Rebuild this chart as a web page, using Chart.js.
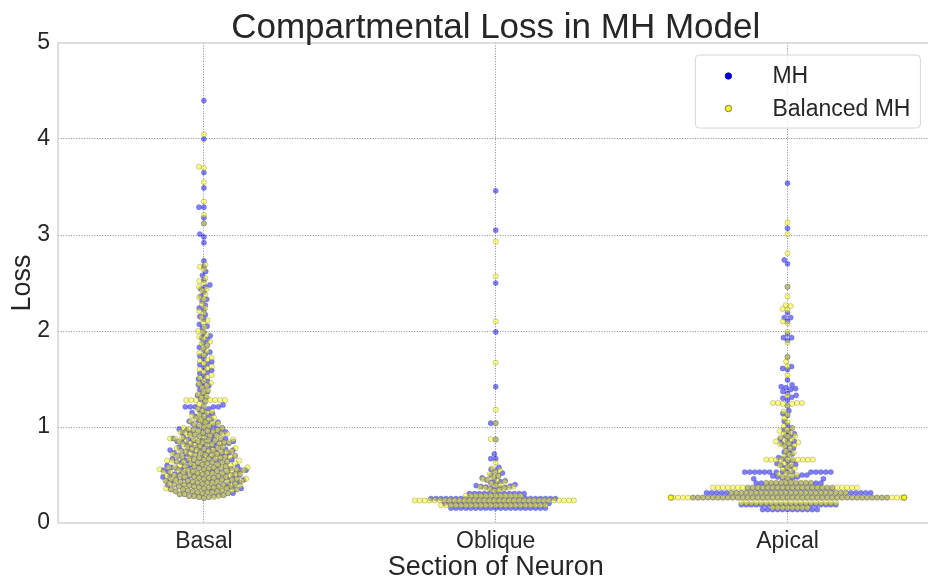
<!DOCTYPE html>
<html>
<head>
<meta charset="utf-8">
<script src="https://cdn.jsdelivr.net/npm/chart.js@4.4.0/dist/chart.umd.min.js"></script>
<style>
  html, body { margin: 0; padding: 0; overflow: hidden; background: #fff; }
  #wrap { width: 938px; height: 581px; }
</style>
</head>
<body>
<div id="wrap"><canvas id="chart" width="938" height="581"></canvas></div>
<script>
const sections = ['Basal', 'Oblique', 'Apical']
const seriesNames = ['MH', 'Balanced MH']
const yTicks = [0, 1, 2, 3, 4, 5]

// loss values, one list per section and model
const mhBasal = [
  4.40, 4.00, 3.65, 3.49, 3.29, 3.29, 3.18, 3.12, 3.01, 2.98, 2.92, 2.73, 2.67, 2.62, 2.58, 2.53,
  2.48, 2.46, 2.44, 2.40, 2.36, 2.33, 2.31, 2.27, 2.24, 2.22, 2.17, 2.15, 2.12, 2.07, 2.05, 2.03,
  1.98, 1.95, 1.93, 1.91, 1.88, 1.85, 1.83, 1.81, 1.78, 1.76, 1.74, 1.71, 1.68, 1.66, 1.65, 1.62, 1.59, 1.57, 1.56,
  1.53, 1.50, 1.48, 1.47, 1.44, 1.43, 1.42,
  1.39, 1.37, 1.35, 1.33, 1.31, 1.29, 1.26, 1.23, 1.21, 1.21, 1.21, 1.21, 1.21, 1.21,
  1.19, 1.18, 1.16, 1.15, 1.14, 1.13, 1.12, 1.11, 1.09, 1.08, 1.07, 1.06, 1.05, 1.05, 1.04, 1.03, 1.02, 1.01, 1.00,
  0.99, 0.99, 0.98, 0.98, 0.97, 0.97, 0.96, 0.96, 0.95, 0.95, 0.94, 0.94, 0.93, 0.93, 0.92, 0.92, 0.91, 0.90,
  0.89, 0.89, 0.88, 0.88, 0.87, 0.87, 0.87, 0.86, 0.86, 0.85, 0.85, 0.85, 0.84, 0.84, 0.83, 0.83, 0.83, 0.82, 0.82, 0.81, 0.81, 0.80,
  0.79, 0.79, 0.79, 0.78, 0.77, 0.77, 0.77, 0.76, 0.76, 0.76, 0.75, 0.75, 0.75, 0.74, 0.73, 0.73, 0.73, 0.72, 0.72, 0.72, 0.71, 0.71, 0.70, 0.70,
  0.69, 0.69, 0.69, 0.68, 0.68, 0.67, 0.67, 0.67, 0.66, 0.66, 0.65, 0.65, 0.65, 0.64, 0.64, 0.63, 0.63, 0.63, 0.62, 0.62, 0.61, 0.61, 0.60, 0.60,
  0.59, 0.59, 0.59, 0.58, 0.58, 0.58, 0.57, 0.57, 0.57, 0.57, 0.56, 0.56, 0.56, 0.55, 0.55, 0.55, 0.55, 0.54, 0.54, 0.54, 0.53, 0.53, 0.53, 0.52, 0.52, 0.52, 0.51, 0.51, 0.51, 0.50, 0.50, 0.50,
  0.49, 0.49, 0.49, 0.48, 0.48, 0.48, 0.47, 0.47, 0.47, 0.47, 0.46, 0.46, 0.46, 0.45, 0.45, 0.45, 0.44, 0.44, 0.44, 0.44, 0.43, 0.43, 0.43, 0.42, 0.42, 0.42, 0.41, 0.41, 0.41, 0.40, 0.40, 0.40,
  0.39, 0.39, 0.39, 0.38, 0.38, 0.38, 0.37, 0.37, 0.37, 0.36, 0.36, 0.36, 0.35, 0.35, 0.35, 0.34, 0.34, 0.34, 0.33, 0.33, 0.33, 0.32, 0.32, 0.31, 0.31, 0.31, 0.30, 0.30,
  0.29, 0.29, 0.28, 0.28, 0.28, 0.27, 0.27, 0.26
]
const balancedBasal = [
  4.05, 3.71, 3.70, 3.55, 3.35, 3.21, 3.12, 2.69, 2.67, 2.64, 2.55, 2.52,
  2.50, 2.46, 2.44, 2.42, 2.38, 2.35, 2.33, 2.28, 2.24, 2.21, 2.19, 2.14, 2.11, 2.09, 2.04, 2.00,
  1.99, 1.96, 1.94, 1.92, 1.89, 1.87, 1.85, 1.82, 1.79, 1.77, 1.75, 1.72, 1.70, 1.69, 1.66, 1.63, 1.61, 1.60, 1.57,
  1.54, 1.52, 1.51, 1.48, 1.46, 1.45, 1.43, 1.41,
  1.38, 1.36, 1.34, 1.32, 1.30, 1.28, 1.28, 1.28, 1.28, 1.28, 1.28, 1.28, 1.27, 1.24, 1.22,
  1.19, 1.17, 1.16, 1.15, 1.13, 1.12, 1.11, 1.10, 1.09, 1.08, 1.07, 1.06, 1.05, 1.04, 1.04, 1.03, 1.02, 1.01, 1.00,
  0.99, 0.99, 0.98, 0.97, 0.97, 0.96, 0.96, 0.95, 0.95, 0.94, 0.94, 0.93, 0.93, 0.92, 0.92, 0.91, 0.91, 0.90,
  0.89, 0.89, 0.88, 0.88, 0.88, 0.87, 0.87, 0.86, 0.86, 0.86, 0.85, 0.85, 0.84, 0.84, 0.84, 0.83, 0.83, 0.82, 0.82, 0.81, 0.81, 0.80,
  0.79, 0.79, 0.78, 0.78, 0.78, 0.77, 0.77, 0.76, 0.76, 0.75, 0.75, 0.75, 0.74, 0.74, 0.74, 0.73, 0.72, 0.72, 0.72, 0.71, 0.71, 0.71, 0.70, 0.70,
  0.69, 0.69, 0.69, 0.68, 0.68, 0.67, 0.67, 0.67, 0.66, 0.66, 0.65, 0.65, 0.65, 0.64, 0.64, 0.64, 0.63, 0.63, 0.63, 0.62, 0.62, 0.62, 0.61, 0.61, 0.60, 0.60,
  0.59, 0.59, 0.59, 0.58, 0.58, 0.58, 0.58, 0.57, 0.57, 0.57, 0.56, 0.56, 0.56, 0.55, 0.55, 0.55, 0.55, 0.54, 0.54, 0.54, 0.53, 0.53, 0.53, 0.52, 0.52, 0.52, 0.52, 0.51, 0.51, 0.51, 0.50, 0.50, 0.50,
  0.49, 0.49, 0.49, 0.48, 0.48, 0.48, 0.47, 0.47, 0.47, 0.46, 0.46, 0.46, 0.46, 0.45, 0.45, 0.45, 0.44, 0.44, 0.44, 0.43, 0.43, 0.43, 0.43, 0.42, 0.42, 0.42, 0.41, 0.41, 0.41, 0.40, 0.40, 0.40,
  0.39, 0.39, 0.39, 0.38, 0.38, 0.38, 0.37, 0.37, 0.37, 0.36, 0.36, 0.36, 0.35, 0.35, 0.35, 0.34, 0.34, 0.34, 0.33, 0.33, 0.33, 0.32, 0.32, 0.32, 0.31, 0.31, 0.30, 0.30,
  0.29, 0.28, 0.28, 0.28, 0.27, 0.27, 0.27, 0.26
]
const mhOblique = [
  3.46, 3.05, 2.50, 1.99, 1.42, 1.04, 1.04, 0.87, 0.72, 0.67, 0.67,
  0.58, 0.56, 0.54, 0.52, 0.50, 0.49, 0.47, 0.46, 0.45, 0.44, 0.43, 0.42, 0.41, 0.40, 0.39,
  0.385, 0.38, 0.375, 0.37, 0.365, 0.36, 0.355,
  0.305, 0.305, 0.305, 0.305, 0.305, 0.305, 0.305, 0.305, 0.305, 0.305, 0.305, 0.305,
  0.255, 0.255, 0.255, 0.255, 0.255, 0.255, 0.255, 0.255, 0.255, 0.255, 0.255, 0.255, 0.255,
  0.255, 0.255, 0.255, 0.255, 0.255, 0.255, 0.255, 0.255, 0.255, 0.255, 0.255, 0.255, 0.255,
  0.205, 0.205, 0.205, 0.205, 0.205, 0.205, 0.205, 0.205, 0.205, 0.205, 0.205,
  0.205, 0.205, 0.205, 0.205, 0.205, 0.205, 0.205, 0.205, 0.205, 0.205, 0.205,
  0.155, 0.155, 0.155, 0.155, 0.155, 0.155, 0.155, 0.155, 0.155, 0.155,
  0.155, 0.155, 0.155, 0.155, 0.155, 0.155, 0.155, 0.155, 0.155, 0.155
]
const balancedOblique = [
  2.93, 2.57, 2.10, 1.67, 1.18, 1.04, 0.875, 0.87, 0.63,
  0.57, 0.55, 0.53, 0.51, 0.49, 0.475, 0.46, 0.45, 0.44, 0.43, 0.415, 0.40, 0.39,
  0.38, 0.375, 0.37, 0.365, 0.36, 0.355, 0.345, 0.335,
  0.285, 0.285, 0.285, 0.285, 0.285, 0.285, 0.285, 0.285, 0.285, 0.285, 0.285, 0.285,
  0.235, 0.235, 0.235, 0.235, 0.235, 0.235, 0.235, 0.235, 0.235, 0.235, 0.235,
  0.235, 0.235, 0.235, 0.235, 0.235, 0.235, 0.235, 0.235, 0.235, 0.235,
  0.235, 0.235, 0.235, 0.235, 0.235, 0.235, 0.235, 0.235, 0.235, 0.235, 0.235, 0.235,
  0.185, 0.185, 0.185, 0.185, 0.185, 0.185, 0.185, 0.185, 0.185, 0.185, 0.185,
  0.185, 0.185, 0.185, 0.185, 0.185, 0.185, 0.185, 0.185, 0.185, 0.185, 0.185
]
const mhApical = [
  3.54, 3.07, 2.74, 2.70, 2.46, 2.19, 2.14, 2.14, 2.10, 1.97, 1.93, 1.93, 1.90, 1.73, 1.63, 1.61, 1.60, 1.49,
  1.44, 1.42, 1.41, 1.40, 1.39, 1.37, 1.35, 1.33, 1.31, 1.30, 1.28, 1.22, 1.17, 1.14, 1.12, 1.06, 1.02,
  0.99, 0.97, 0.95, 0.93, 0.91, 0.90, 0.88, 0.86, 0.85, 0.83, 0.82, 0.80,
  0.78, 0.76, 0.74, 0.72, 0.70, 0.68, 0.67, 0.65, 0.64, 0.62, 0.61, 0.60, 0.59, 0.58,
  0.53, 0.53, 0.53, 0.53, 0.53, 0.53, 0.53, 0.53, 0.53, 0.53, 0.53, 0.53, 0.53, 0.53, 0.53,
  0.50, 0.50, 0.49, 0.48, 0.48, 0.47, 0.47, 0.465, 0.46, 0.46,
  0.415, 0.415, 0.415, 0.415, 0.415, 0.415, 0.415, 0.415, 0.415, 0.415, 0.415, 0.415, 0.415, 0.415,
  0.365, 0.365, 0.365, 0.365, 0.365, 0.365, 0.365, 0.365, 0.365, 0.365, 0.365, 0.365, 0.365, 0.365, 0.365, 0.365, 0.365, 0.365,
  0.315, 0.315, 0.315, 0.315, 0.315, 0.315, 0.315, 0.315, 0.315, 0.315, 0.315, 0.315, 0.315, 0.315, 0.315, 0.315, 0.315,
  0.315, 0.315, 0.315, 0.315, 0.315, 0.315, 0.315, 0.315, 0.315, 0.315, 0.315, 0.315, 0.315, 0.315, 0.315, 0.315, 0.315,
  0.265, 0.265, 0.265, 0.265, 0.265, 0.265, 0.265, 0.265, 0.265, 0.265, 0.265, 0.265, 0.265, 0.265, 0.265, 0.265, 0.265, 0.265, 0.265, 0.265,
  0.265, 0.265, 0.265, 0.265, 0.265, 0.265, 0.265, 0.265, 0.265, 0.265, 0.265, 0.265, 0.265, 0.265, 0.265, 0.265, 0.265, 0.265, 0.265, 0.265,
  0.19, 0.19, 0.19, 0.19, 0.19, 0.19, 0.19, 0.19, 0.19, 0.19, 0.19, 0.19, 0.19, 0.19, 0.19, 0.19, 0.19, 0.19, 0.19, 0.19,
  0.14, 0.14, 0.14, 0.14, 0.14, 0.14, 0.14, 0.14, 0.14, 0.14, 0.14, 0.14
]
const balancedApical = [
  3.13, 3.01, 2.81, 2.46, 2.36, 2.27, 2.26, 2.23, 2.22, 2.10, 2.08, 1.99, 1.88, 1.73, 1.68, 1.63, 1.54, 1.33,
  1.25, 1.25, 1.25, 1.24, 1.25, 1.24, 1.22, 1.16, 1.13, 1.09, 1.05, 1.01,
  0.99, 0.97, 0.96, 0.94, 0.93, 0.91, 0.90, 0.89, 0.87, 0.86, 0.85, 0.84, 0.83, 0.82, 0.81, 0.80,
  0.78, 0.75, 0.73, 0.71, 0.70,
  0.66, 0.66, 0.66, 0.66, 0.66, 0.66, 0.66, 0.66, 0.66, 0.66,
  0.62, 0.61, 0.60, 0.58, 0.57, 0.56, 0.54, 0.52, 0.51, 0.50, 0.49, 0.48, 0.47,
  0.42, 0.42, 0.42, 0.42, 0.42, 0.42, 0.42, 0.42, 0.42, 0.42,
  0.37, 0.37, 0.37, 0.37, 0.37, 0.37, 0.37, 0.37, 0.37, 0.37, 0.37, 0.37, 0.37, 0.37, 0.37,
  0.37, 0.37, 0.37, 0.37, 0.37, 0.37, 0.37, 0.37, 0.37, 0.37, 0.37, 0.37, 0.37, 0.37, 0.37,
  0.315, 0.315, 0.315, 0.315, 0.315, 0.315, 0.315, 0.315, 0.315, 0.315, 0.315, 0.315,
  0.315, 0.315, 0.315, 0.315, 0.315, 0.315, 0.315, 0.315, 0.315, 0.315, 0.315, 0.315,
  0.265, 0.265, 0.265, 0.265, 0.265, 0.265, 0.265, 0.265, 0.265, 0.265, 0.265, 0.265, 0.265, 0.265,
  0.265, 0.265, 0.265, 0.265, 0.265, 0.265, 0.265, 0.265, 0.265, 0.265, 0.265, 0.265, 0.265, 0.265,
  0.265, 0.265, 0.265, 0.265, 0.265, 0.265, 0.265, 0.265, 0.265, 0.265, 0.265, 0.265, 0.265, 0.265,
  0.265, 0.265, 0.265, 0.265, 0.265, 0.265, 0.265, 0.265, 0.265, 0.265, 0.265, 0.265, 0.265, 0.265,
  0.21, 0.21, 0.21, 0.21, 0.21, 0.21, 0.21, 0.21, 0.21, 0.21, 0.21, 0.21, 0.21, 0.21, 0.21, 0.21, 0.21, 0.21, 0.21, 0.21,
  0.16, 0.16, 0.16, 0.16, 0.16, 0.16, 0.16, 0.16
]

const mhValues = [mhBasal, mhOblique, mhApical]
const balancedValues = [balancedBasal, balancedOblique, balancedApical]

const textColor = '#262626'
const gridColor = 'rgba(90, 90, 90, 0.8)'
const pointRadius = 2.6
const swarmGap = 5.0   // px between centres of touching points
const swarmWidth = 0.8 // share of a category the swarm may fill

Chart.defaults.font.family = "'Liberation Sans', Arial, sans-serif"
Chart.defaults.color = textColor

// seaborn style beeswarm: place points in value order, nearest free spot to the midline
function swarmOffsets(values, center, yScale, limit) {
  const d = swarmGap
  const pts = values.map((v, i) => ({ i, py: yScale.getPixelForValue(v), px: center }))
  const order = pts.slice().sort((a, b) => b.py - a.py || a.i - b.i)
  const placed = []
  for (const p of order) {
    const near = []
    for (let k = placed.length - 1; k >= 0; k--) {
      if (Math.abs(placed[k].py - p.py) < d) near.push(placed[k])
    }
    const cands = [center]
    for (const q of near) {
      const dx = Math.sqrt(d * d - (q.py - p.py) ** 2)
      cands.push(q.px - dx, q.px + dx)
    }
    cands.sort((a, b) => Math.abs(a - center) - Math.abs(b - center))
    for (const c of cands) {
      if (near.every(q => (q.px - c) ** 2 + (q.py - p.py) ** 2 >= d * d - 0.01)) {
        p.px = c
        break
      }
    }
    placed.push(p)
  }
  return pts.map(p => Math.min(center + limit, Math.max(center - limit, p.px)) - center)
}

const framePlugin = {
  id: 'frame',
  beforeDatasetsDraw(c) {
    const { ctx, chartArea: a } = c
    ctx.save()
    ctx.strokeStyle = '#cccccc'
    ctx.lineWidth = 1.25
    ctx.strokeRect(a.left, a.top, a.right - a.left, a.bottom - a.top)
    ctx.restore()
  }
}

const titlePlugin = {
  id: 'topTitle',
  afterDraw(c) {
    const { ctx, chartArea: a } = c
    ctx.save()
    ctx.fillStyle = textColor
    ctx.font = "35px 'Liberation Sans', Arial, sans-serif"
    ctx.textAlign = 'center'
    ctx.textBaseline = 'alphabetic'
    ctx.fillText('Compartmental Loss in MH Model', (a.left + a.right) / 2, 38)
    ctx.restore()
  }
}

const legendPlugin = {
  id: 'swarmLegend',
  afterDraw(c) {
    const { ctx, chartArea: a } = c
    const w = 225, h = 73
    const x0 = a.right - 13 - w, y0 = a.top + 12
    ctx.save()
    ctx.beginPath()
    ctx.roundRect(x0, y0, w, h, 4)
    ctx.fillStyle = 'rgba(255,255,255,0.8)'
    ctx.fill()
    ctx.strokeStyle = '#d6d6d6'
    ctx.lineWidth = 1
    ctx.stroke()
    const marks = [
      { fill: 'rgb(0,0,230)', edge: 'rgb(0,0,200)' },
      { fill: 'rgb(255,255,0)', edge: '#555555' }
    ]
    ctx.font = "23px 'Liberation Sans', Arial, sans-serif"
    ctx.textBaseline = 'middle'
    seriesNames.forEach((name, k) => {
      const yy = y0 + 21 + k * 32.5
      ctx.beginPath()
      ctx.arc(x0 + 33, yy, 3.2, 0, Math.PI * 2)
      ctx.fillStyle = marks[k].fill
      ctx.fill()
      ctx.lineWidth = 0.8
      ctx.strokeStyle = marks[k].edge
      ctx.stroke()
      ctx.fillStyle = textColor
      ctx.fillText(name, x0 + 77, yy + 1)
    })
    ctx.restore()
  }
}

const chart = new Chart(document.getElementById('chart'), {
  type: 'scatter',
  data: {
    datasets: [
      {
        label: seriesNames[1],
        data: [],
        order: 0,
        pointRadius: pointRadius,
        pointBackgroundColor: 'rgba(255, 255, 0, 0.5)',
        pointBorderColor: 'rgba(70, 70, 70, 0.45)',
        pointBorderWidth: 0.6
      },
      {
        label: seriesNames[0],
        data: [],
        order: 1,
        pointRadius: pointRadius,
        pointBackgroundColor: 'rgba(0, 0, 255, 0.5)',
        pointBorderColor: 'rgba(50, 50, 120, 0.35)',
        pointBorderWidth: 0.6
      }
    ]
  },
  options: {
    responsive: false,
    animation: false,
    events: [],
    layout: { padding: { top: 43, left: 0, right: 0, bottom: 0 } },
    plugins: {
      legend: { display: false },
      tooltip: { enabled: false },
      title: { display: false }
    },
    scales: {
      x: {
        type: 'linear',
        min: -0.5,
        max: 2.5,
        afterBuildTicks: s => { s.ticks = sections.map((_, i) => ({ value: i })) },
        afterFit: s => { s.height = 58 },
        ticks: {
          callback: v => sections[v],
          font: { size: 23 },
          color: textColor,
          padding: 5
        },
        grid: { color: gridColor, lineWidth: 0.9, drawTicks: false },
        border: { display: false, dash: [1, 1.6] },
        title: {
          display: true,
          text: 'Section of Neuron',
          font: { size: 27, lineHeight: 1 },
          color: textColor,
          padding: 0
        }
      },
      y: {
        min: 0,
        max: 5,
        afterBuildTicks: s => { s.ticks = yTicks.map(v => ({ value: v })) },
        afterFit: s => { s.width = 58 },
        ticks: { font: { size: 23 }, color: textColor, padding: 8 },
        grid: {
          color: c => (c.tick && (c.tick.value === 0 || c.tick.value === 5)) ? 'rgba(0,0,0,0)' : gridColor,
          lineWidth: 0.9,
          drawTicks: false
        },
        border: { display: false, dash: [1, 1.6] },
        title: {
          display: true,
          text: 'Loss',
          font: { size: 27, lineHeight: 1 },
          color: textColor,
          padding: { top: 9, bottom: 0 }
        }
      }
    }
  },
  plugins: [framePlugin, titlePlugin, legendPlugin]
})

function placeSwarms() {
  const xs = chart.scales.x, ys = chart.scales.y
  const unit = xs.getPixelForValue(1) - xs.getPixelForValue(0)
  const build = lists => {
    const pts = []
    lists.forEach((vals, c) => {
      const center = xs.getPixelForValue(c)
      const offs = swarmOffsets(vals, center, ys, swarmWidth / 2 * unit)
      vals.forEach((v, k) => pts.push({ x: c + offs[k] / unit, y: v }))
    })
    return pts
  }
  chart.data.datasets[0].data = build(balancedValues)
  chart.data.datasets[1].data = build(mhValues)
  chart.update('none')
}

placeSwarms()
</script>
</body>
</html>
